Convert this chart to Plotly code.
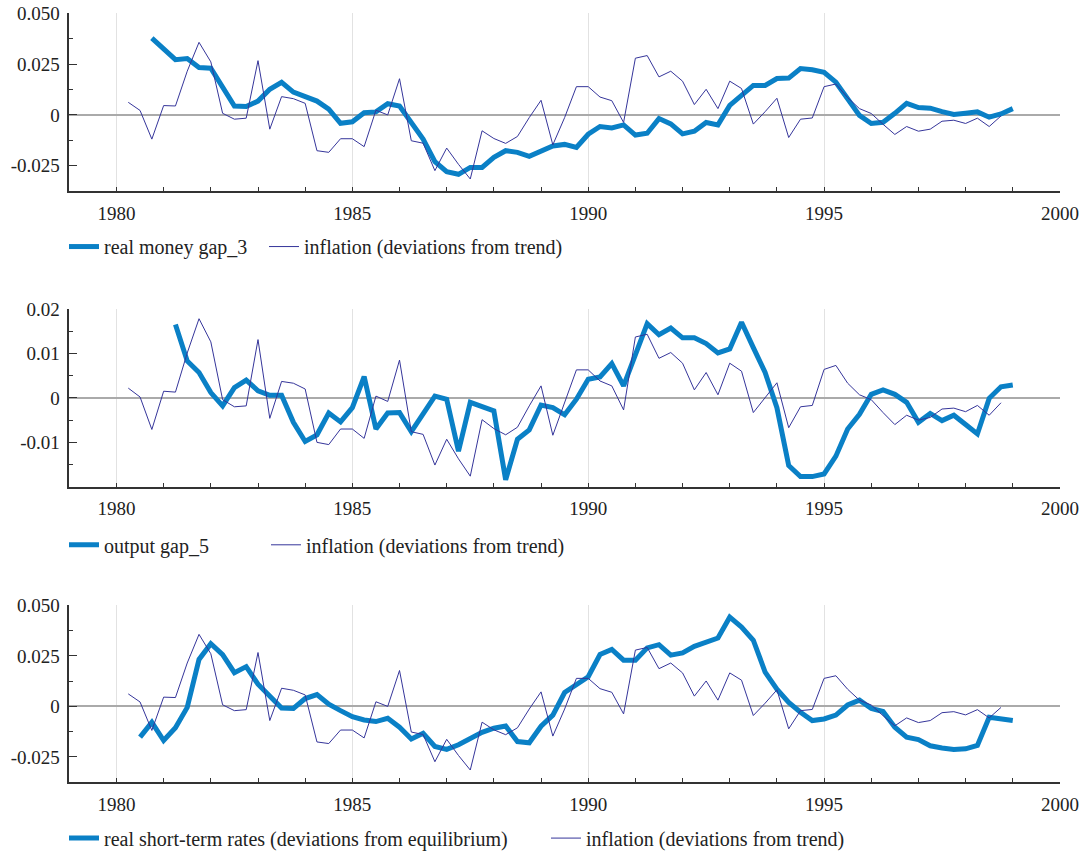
import plotly.graph_objects as go

# ---------------- data (quarterly) ----------------
infl_start = 1980.25
inflation = [
    0.0062, 0.0022, -0.0119,
    0.0046, 0.0044, 0.0215, 0.0357,
    0.0261, 0.0008, -0.0021, -0.0016,
    0.0267, -0.0070, 0.0090, 0.0080,
    0.0057, -0.0176, -0.0184, -0.0117,
    -0.0117, -0.0156, 0.0023, 0.0000,
    0.0178, -0.0127, -0.0139, -0.0274,
    -0.0163, -0.0243, -0.0315, -0.0078,
    -0.0116, -0.0140, -0.0106, -0.0013,
    0.0072, -0.0147, -0.0013, 0.0139,
    0.0139, 0.0088, 0.0070, -0.0037,
    0.0279, 0.0292, 0.0187, 0.0215,
    0.0166, 0.0051, 0.0126, 0.0031,
    0.0166, 0.0130, -0.0045, 0.0016,
    0.0082, -0.0111, -0.0021, -0.0015,
    0.0139, 0.0152, 0.0085, 0.0031,
    0.0007, -0.0046, -0.0096, -0.0057,
    -0.0080, -0.0070, -0.0031, -0.0026,
    -0.0042, -0.0016, -0.0057, -0.0005,
]

infl2_start = 1980.25
inflation_p2 = [
    0.0022, 0.0002, -0.0071,
    0.0015, 0.0013, 0.0101, 0.0178,
    0.0126, -0.0004, -0.0020, -0.0018,
    0.0131, -0.0046, 0.0037, 0.0033,
    0.0020, -0.0100, -0.0105, -0.0070,
    -0.0070, -0.0091, 0.0004, -0.0008,
    0.0085, -0.0076, -0.0082, -0.0151,
    -0.0093, -0.0137, -0.0176, -0.0049,
    -0.0069, -0.0083, -0.0066, -0.0018,
    0.0027, -0.0084, -0.0010, 0.0063,
    0.0063, 0.0038, 0.0027, -0.0027,
    0.0137, 0.0143, 0.0089, 0.0102,
    0.0078, 0.0018, 0.0057, 0.0007,
    0.0078, 0.0060, -0.0033, 0.0001,
    0.0034, -0.0067, -0.0020, -0.0017,
    0.0064, 0.0073, 0.0033, 0.0007,
    -0.0004, -0.0033, -0.0060, -0.0039,
    -0.0050, -0.0044, -0.0025, -0.0023,
    -0.0031, -0.0017, -0.0039, -0.0011,
]

money_start = 1980.75
money_gap = [
    0.0378,
    0.0321, 0.0272, 0.0277, 0.0233,
    0.0230, 0.0139, 0.0044, 0.0041,
    0.0068, 0.0126, 0.0160, 0.0112,
    0.0093, 0.0068, 0.0028, -0.0041,
    -0.0034, 0.0011, 0.0015, 0.0055,
    0.0044, -0.0033, -0.0119, -0.0230,
    -0.0279, -0.0292, -0.0258, -0.0258,
    -0.0209, -0.0176, -0.0184, -0.0204,
    -0.0176, -0.0153, -0.0145, -0.0160,
    -0.0095, -0.0057, -0.0064, -0.0049,
    -0.0099, -0.0090, -0.0018, -0.0044,
    -0.0093, -0.0080, -0.0037, -0.0049,
    0.0047, 0.0093, 0.0145, 0.0145,
    0.0179, 0.0181, 0.0228, 0.0222,
    0.0210, 0.0161, 0.0082, -0.0002,
    -0.0042, -0.0036, 0.0008, 0.0057,
    0.0036, 0.0033, 0.0016, 0.0002,
    0.0008, 0.0015, -0.0011, 0.0005,
    0.0031,
]

output_start = 1981.25
output_gap = [
    0.0165, 0.0083, 0.0057,
    0.0012, -0.0018, 0.0023, 0.0040,
    0.0016, 0.0006, 0.0006, -0.0055,
    -0.0098, -0.0083, -0.0034, -0.0054,
    -0.0022, 0.0048, -0.0070, -0.0034,
    -0.0033, -0.0076, -0.0034, 0.0004,
    -0.0003, -0.0120, -0.0010, -0.0019,
    -0.0029, -0.0184, -0.0093, -0.0072,
    -0.0016, -0.0022, -0.0038, -0.0003,
    0.0042, 0.0047, 0.0077, 0.0027,
    0.0101, 0.0167, 0.0142, 0.0157,
    0.0135, 0.0135, 0.0122, 0.0101,
    0.0110, 0.0170, 0.0113, 0.0057,
    -0.0022, -0.0152, -0.0177, -0.0177,
    -0.0171, -0.0131, -0.0070, -0.0037,
    0.0008, 0.0018, 0.0008, -0.0010,
    -0.0055, -0.0035, -0.0051, -0.0039,
    -0.0060, -0.0081, -0.0001, 0.0025,
    0.0029,
]

rates_start = 1980.5
real_rates = [
    -0.0152, -0.0079,
    -0.0169, -0.0106, -0.0005, 0.0233,
    0.0311, 0.0257, 0.0167, 0.0197,
    0.0110, 0.0048, -0.0008, -0.0010,
    0.0039, 0.0059, 0.0011, -0.0021,
    -0.0051, -0.0067, -0.0075, -0.0059,
    -0.0103, -0.0161, -0.0133, -0.0198,
    -0.0213, -0.0190, -0.0157, -0.0128,
    -0.0108, -0.0097, -0.0174, -0.0180,
    -0.0098, -0.0043, 0.0069, 0.0105,
    0.0147, 0.0257, 0.0282, 0.0229,
    0.0229, 0.0290, 0.0306, 0.0254,
    0.0265, 0.0298, 0.0318, 0.0339,
    0.0442, 0.0393, 0.0328, 0.0170,
    0.0085, 0.0020, -0.0029, -0.0070,
    -0.0062, -0.0043, 0.0007, 0.0031,
    -0.0010, -0.0025, -0.0103, -0.0152,
    -0.0164, -0.0195, -0.0206, -0.0213,
    -0.0210, -0.0193, -0.0054, -0.0062,
    -0.0070,
]

year_labels = [1980, 1985, 1990, 1995, 2000]
minor_years = [y for y in range(1979, 2001) if y % 5 != 0]

y13_tickvals = [-0.025, 0.0, 0.025, 0.05]
y13_ticktext = ["-0.025", "0", "0.025", "0.050"]
y13_minor = [-0.0375, -0.0125, 0.0125, 0.0375]
y2_tickvals = [-0.01, 0.0, 0.01, 0.02]
y2_ticktext = ["-0.01", "0", "0.01", "0.02"]
y2_minor = [-0.015, -0.005, 0.005, 0.015]

names_blue = ["real money gap_3", "output gap_5",
              "real short-term rates (deviations from equilibrium)"]
name_infl = "inflation (deviations from trend)"


def quarters(start, n):
    return [start + 0.25 * i for i in range(n)]


# ---------------- styling ----------------
W, H = 1088, 858
BLUE = "#0A80C6"
NAVY = "#35359A"
FONT = "Liberation Serif, Times New Roman, Times, DejaVu Serif, serif"

fig = go.Figure()

panels = [
    (money_start, money_gap, infl_start, inflation, "x", "y"),
    (output_start, output_gap, infl2_start, inflation_p2, "x2", "y2"),
    (rates_start, real_rates, infl_start, inflation, "x3", "y3"),
]
legend_ids = [("legend", "legend2"), ("legend3", "legend4"), ("legend5", "legend6")]

for i, (bs, bv, is_, iv, xa, ya) in enumerate(panels):
    fig.add_trace(go.Scatter(
        x=quarters(bs, len(bv)), y=bv, mode="lines", name=names_blue[i],
        line=dict(color=BLUE, width=5), xaxis=xa, yaxis=ya, showlegend=True,
        legend=legend_ids[i][0], hoverinfo="skip"))
    fig.add_trace(go.Scatter(
        x=quarters(is_, len(iv)), y=iv, mode="lines", name=name_infl,
        line=dict(color=NAVY, width=1), xaxis=xa, yaxis=ya, showlegend=True,
        legend=legend_ids[i][1], hoverinfo="skip"))


def px_x(p):
    return p / W


def px_y(p):
    return 1 - p / H


x_dom = [px_x(69.3), px_x(1060)]
y_doms = [(13.3, 192.3), (310.7, 489.7), (609.0, 786.7)]

tickfont = dict(family=FONT, size=19, color="#222")
layout = dict(
    width=W, height=H,
    margin=dict(l=0, r=0, t=0, b=0, pad=0),
    paper_bgcolor="white", plot_bgcolor="white",
    font=dict(family=FONT, size=19, color="#222"),
    hovermode=False, showlegend=True,
)

for k in range(3):
    sfx = "" if k == 0 else str(k + 1)
    top, bot = y_doms[k]
    layout["xaxis" + sfx] = dict(
        domain=x_dom, range=[1979, 2000.001], anchor="y" + sfx,
        tickmode="array", tickvals=year_labels,
        ticks="inside", ticklen=4, tickcolor="#333", tickwidth=1,
        minor=dict(tickmode="array", tickvals=minor_years, ticks="inside",
                   ticklen=4, tickcolor="#333", tickwidth=1, showgrid=False),
        showgrid=True, gridcolor="#e2e2e2", gridwidth=1,
        zeroline=False, showline=True, linecolor="#333", linewidth=1.5,
        tickfont=tickfont, automargin=False, fixedrange=True,
        ticklabelstandoff=4, ticklabeloverflow="allow",
    )
    if k == 1:
        rng, tv, tt, mn = [-0.02, 0.02001], y2_tickvals, y2_ticktext, y2_minor
    else:
        rng, tv, tt, mn = [-0.0375, 0.05002], y13_tickvals, y13_ticktext, y13_minor
    layout["yaxis" + sfx] = dict(
        domain=[px_y(bot), px_y(top)], range=rng, anchor="x" + sfx,
        tickmode="array", tickvals=tv, ticktext=tt,
        ticks="inside", ticklen=8, tickcolor="#333", tickwidth=1,
        minor=dict(tickmode="array", tickvals=mn, ticks="inside",
                   ticklen=4, tickcolor="#333", tickwidth=1, showgrid=False),
        showgrid=False, zeroline=True, zerolinecolor="#aaaaaa", zerolinewidth=1.5,
        showline=True, linecolor="#333", linewidth=1.5,
        tickfont=tickfont, automargin=False, fixedrange=True,
        ticklabelstandoff=4, ticklabeloverflow="allow",
    )

# legends: one per entry, placed below each panel (reference pixel coords)
legend_pos = [
    (64, 248), (264, 248),
    (64, 548), (266, 548),
    (64, 843), (546, 843),
]
for j, (lx, ly) in enumerate(legend_pos):
    key = "legend" if j == 0 else "legend" + str(j + 1)
    layout[key] = dict(
        x=px_x(lx), y=px_y(ly), xanchor="left", yanchor="middle",
        orientation="h", bgcolor="rgba(0,0,0,0)", borderwidth=0,
        font=dict(family=FONT, size=20, color="#222"), visible=True,
    )

fig.update_layout(**layout)
# remove the default 8px page margin so the figure fills the window exactly
fig.write_html("out.html", config={"displayModeBar": False},
               post_script="document.body.style.margin='0px';")
